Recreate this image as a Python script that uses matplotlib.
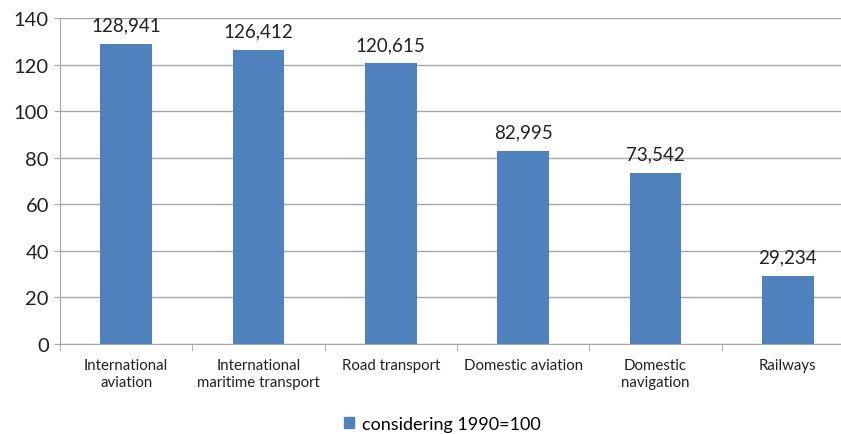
import numpy as np
import matplotlib.pyplot as plt
from matplotlib.patches import Patch

plt.rcParams['font.family'] = ['Lato', 'DejaVu Sans']

categories = ['International\naviation', 'International\nmaritime transport', 'Road transport',
              'Domestic aviation', 'Domestic\nnavigation', 'Railways']
values = [128.941, 126.412, 120.615, 82.995, 73.542, 29.234]
value_labels = ['128,941', '126,412', '120,615', '82,995', '73,542', '29,234']
series_name = 'considering 1990=100'

blue = '#4F81BD'
grid = '#A6A6A6'

fig = plt.figure(figsize=(8.41, 4.35), dpi=100)
ax = fig.add_axes([60/841, 90/435, 794/841, 326/435])

x = np.arange(len(categories))
ax.bar(x, values, width=0.39, color=blue, zorder=3)
for xi, v, lab in zip(x, values, value_labels):
    ax.annotate(lab, (xi, v), xytext=(0, 9.4), textcoords='offset points',
                ha='center', va='baseline', fontsize=13.5, color='#222222')

ax.set_xlim(-0.5, len(categories) - 0.5)
ax.set_ylim(0, 140)
ax.set_yticks(range(0, 141, 20))
ax.yaxis.grid(True, color=grid, linewidth=1, zorder=0)
ax.tick_params(axis='y', labelsize=14.5, length=4, color=grid, pad=4, labelcolor='#222222')

ax.set_xticks(x)
ax.set_xticklabels(categories, fontsize=10.8, color='#222222', linespacing=1.25)
ax.set_xticks(np.arange(-0.5, len(categories), 1), minor=True)
ax.tick_params(axis='x', which='major', length=0, pad=10)
ax.tick_params(axis='x', which='minor', length=5, color=grid)

for s in ['top', 'right']:
    ax.spines[s].set_visible(False)
for s in ['left', 'bottom']:
    ax.spines[s].set_color(grid)

fig.legend(handles=[Patch(color=blue, label=series_name)], loc='center',
           bbox_to_anchor=(442/841, 1 - 425/435), frameon=False, fontsize=13,
           handlelength=0.6, handleheight=0.6, handletextpad=0.4)

fig.savefig('out.png', dpi=100)
